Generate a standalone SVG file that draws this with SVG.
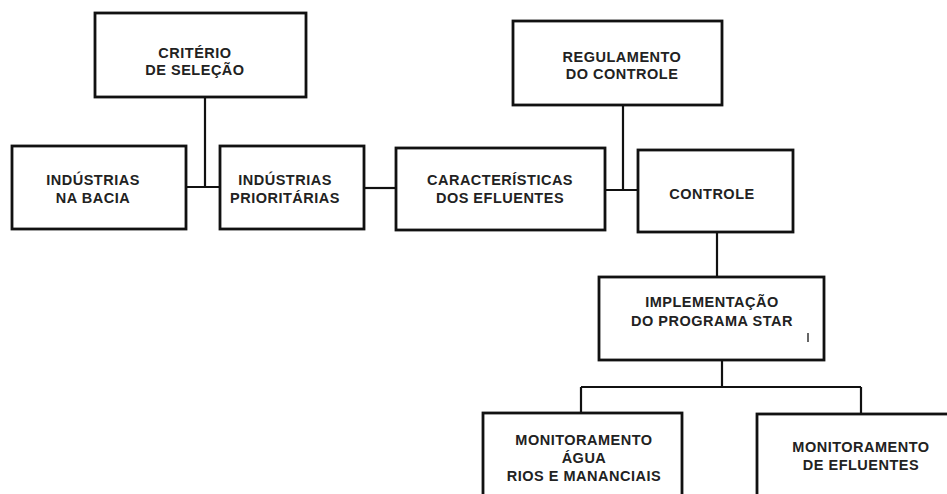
<svg xmlns="http://www.w3.org/2000/svg" width="947" height="494" viewBox="0 0 947 494">
<style>
.box{fill:#fff;stroke:#111;stroke-width:2.8}
.ln{fill:none;stroke:#111;stroke-width:2.2}
text{font-family:"Liberation Sans",Arial,sans-serif;font-weight:bold;font-size:14.5px;letter-spacing:0.5px;fill:#222;text-anchor:middle}
</style>
<rect width="947" height="494" fill="#fff"/>
<g id="connectors">
<path class="ln" d="M205 97V187M186 187H220"/>
<path class="ln" d="M364 188H396"/>
<path class="ln" d="M623 105V190M605 190H638"/>
<path class="ln" d="M717 232V277"/>
<path class="ln" d="M722 360V387M581 387H861M581 387V413M861 387V414"/>
</g>
<g id="criterio">
<rect class="box" x="95" y="13" width="211" height="84"/>
<text x="195" y="58">CRITÉRIO</text>
<text x="195" y="75">DE SELEÇÃO</text>
</g>
<g id="industrias-bacia">
<rect class="box" x="12" y="146" width="174" height="83"/>
<text x="93" y="185">INDÚSTRIAS</text>
<text x="93" y="203">NA BACIA</text>
</g>
<g id="industrias-prioritarias">
<rect class="box" x="220" y="146" width="144" height="83"/>
<text x="285" y="185">INDÚSTRIAS</text>
<text x="285" y="203">PRIORITÁRIAS</text>
</g>
<g id="caracteristicas">
<rect class="box" x="396" y="148" width="209" height="82"/>
<text x="500" y="185">CARACTERÍSTICAS</text>
<text x="500" y="203">DOS EFLUENTES</text>
</g>
<g id="regulamento">
<rect class="box" x="513" y="21" width="209" height="84"/>
<text x="622" y="62">REGULAMENTO</text>
<text x="622" y="79">DO CONTROLE</text>
</g>
<g id="controle">
<rect class="box" x="638" y="150" width="155" height="82"/>
<text x="712" y="199">CONTROLE</text>
</g>
<g id="implementacao">
<rect class="box" x="599" y="277" width="225" height="83"/>
<text x="712" y="307">IMPLEMENTAÇÃO</text>
<text x="712" y="326">DO PROGRAMA STAR</text>
<path d="M808 333V342" stroke="#333" stroke-width="1.5"/>
</g>
<g id="monitoramento-agua">
<rect class="box" x="483" y="413" width="199" height="95"/>
<text x="584" y="445">MONITORAMENTO</text>
<text x="584" y="463">ÁGUA</text>
<text x="584" y="481">RIOS E MANANCIAIS</text>
</g>
<g id="monitoramento-efluentes">
<rect class="box" x="757" y="414" width="200" height="95"/>
<text x="861" y="452">MONITORAMENTO</text>
<text x="861" y="470">DE EFLUENTES</text>
</g>
</svg>
